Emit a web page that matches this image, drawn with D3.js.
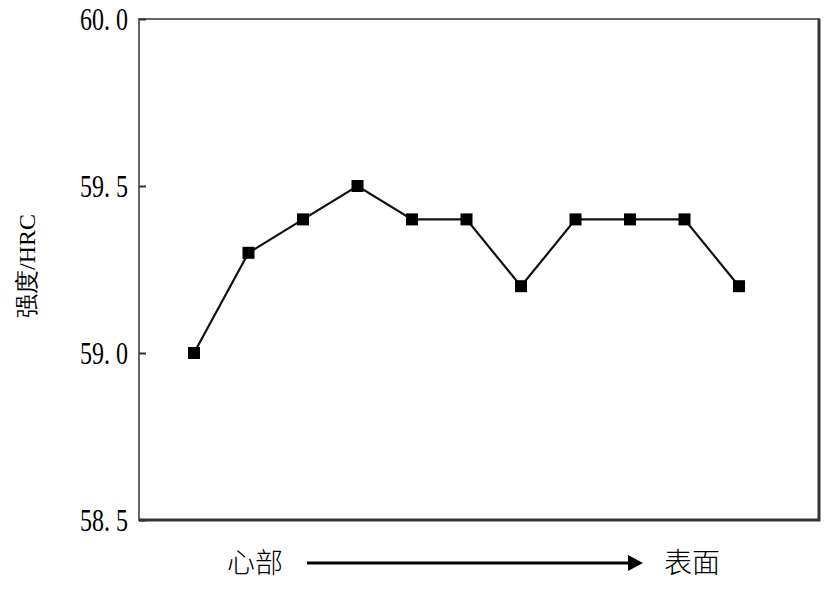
<!DOCTYPE html>
<html>
<head>
    <meta charset="utf-8">
    <script src="https://d3js.org/d3.v7.min.js"></script>
    <style>
        body { margin: 0; background: #fff; }
        .tick-label { font-family: "Liberation Serif", serif; font-size: 32px; }
        .cjk { font-family: "Noto Sans CJK SC", sans-serif; font-weight: 300; }
    </style>
</head>
<body>
    <svg width="827" height="591"></svg>
    <script>
        // data
        const positions = [0, 1, 2, 3, 4, 5, 6, 7, 8, 9, 10];
        const hardness = [59.0, 59.3, 59.4, 59.5, 59.4, 59.4, 59.2, 59.4, 59.4, 59.4, 59.2];
        const yTicks = [58.5, 59.0, 59.5, 60.0];
        const yLabel = "强度/HRC";
        const startLabel = "心部";
        const endLabel = "表面";

        const svg = d3.select("svg");
        const plot = { left: 139, right: 819, top: 19, bottom: 520 };

        const x = d3.scaleLinear().domain([0, 10]).range([194, 739]);
        const y = d3.scaleLinear().domain([58.5, 60.0]).range([plot.bottom, plot.top]);

        // frame
        svg.append("rect")
            .attr("x", plot.left).attr("y", plot.top)
            .attr("width", plot.right - plot.left).attr("height", plot.bottom - plot.top)
            .attr("fill", "none").attr("stroke", "#666").attr("stroke-width", 2);
        svg.append("polyline")
            .attr("points", `${plot.left},${plot.bottom} ${plot.right},${plot.bottom} ${plot.right},${plot.top}`)
            .attr("fill", "none").attr("stroke", "#333").attr("stroke-width", 3);

        // y axis, ticks pointing inward
        const yAxis = d3.axisRight(y)
            .tickValues(yTicks)
            .tickSize(7)
            .tickFormat(d => d3.format(".1f")(d).replace(".", ". "));
        const ax = svg.append("g")
            .attr("transform", `translate(${plot.left},0)`)
            .call(yAxis);
        ax.select(".domain").remove();
        ax.selectAll(".tick line").attr("stroke", "#333").attr("stroke-width", 2);
        ax.selectAll(".tick text").remove();

        svg.append("g").selectAll("text")
            .data(yTicks)
            .join("text")
            .attr("class", "tick-label")
            .attr("text-anchor", "end")
            .attr("transform", d => `translate(128,${y(d) + 11}) scale(0.75,1)`)
            .text(d => d3.format(".1f")(d).replace(".", ". "));

        // y label
        svg.append("text")
            .attr("class", "tick-label")
            .attr("transform", "translate(35,266) rotate(-90)")
            .attr("text-anchor", "middle")
            .style("font-size", "24px")
            .text(yLabel);

        // series line
        const line = d3.line()
            .x((d, i) => x(positions[i]))
            .y(d => y(d));
        svg.append("path")
            .datum(hardness)
            .attr("d", line)
            .attr("fill", "none")
            .attr("stroke", "#111")
            .attr("stroke-width", 2.2);

        svg.append("g").selectAll("rect")
            .data(hardness)
            .join("rect")
            .attr("x", (d, i) => x(positions[i]) - 6)
            .attr("y", d => y(d) - 6)
            .attr("width", 12).attr("height", 12)
            .attr("fill", "#000");

        // bottom direction labels
        svg.append("text")
            .attr("class", "cjk")
            .attr("x", 255).attr("y", 573)
            .attr("text-anchor", "middle")
            .style("font-size", "28px")
            .text(startLabel);
        svg.append("text")
            .attr("class", "cjk")
            .attr("x", 692).attr("y", 573)
            .attr("text-anchor", "middle")
            .style("font-size", "28px")
            .text(endLabel);

        svg.append("line")
            .attr("x1", 307).attr("x2", 630)
            .attr("y1", 563).attr("y2", 563)
            .attr("stroke", "#000").attr("stroke-width", 3);
        svg.append("path")
            .attr("d", "M628,555 L643,563 L628,571 Z")
            .attr("fill", "#000");
    </script>
</body>
</html>
